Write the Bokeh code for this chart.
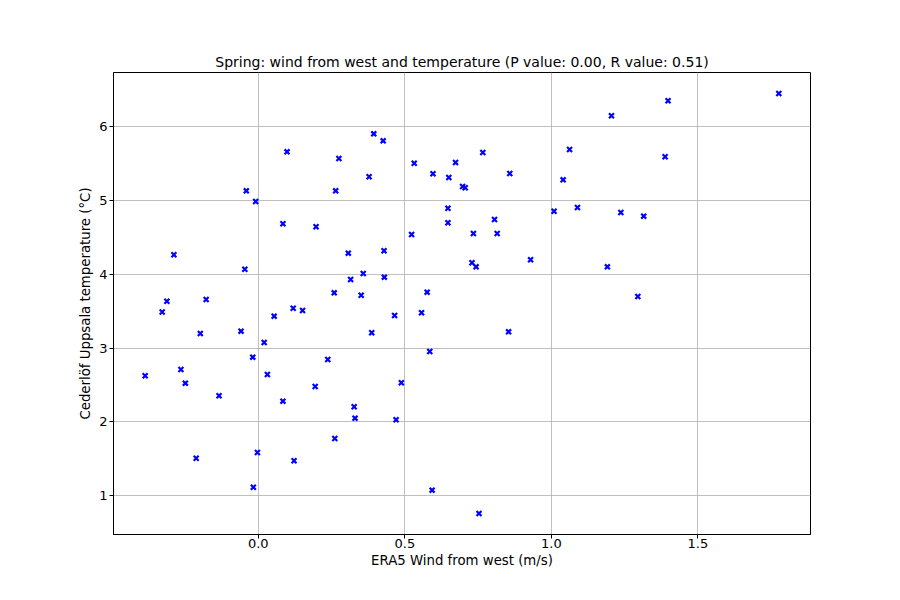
from bokeh.plotting import figure
from bokeh.models import FixedTicker, Range1d, CustomJSTickFormatter
from bokeh.embed import file_html
from bokeh.resources import INLINE

wind_west = [-0.386, -0.328, -0.312, -0.288, -0.264, -0.249, -0.198, -0.178, -0.212, -0.134,
             -0.059, -0.046, -0.041, -0.019, -0.009, -0.003, -0.017, 0.020, 0.031, 0.054,
             0.084, 0.084, 0.098, 0.119, 0.122, 0.151, 0.197, 0.194, 0.237, 0.264,
             0.259, 0.261, 0.275, 0.307, 0.315, 0.327, 0.330, 0.351, 0.358, 0.378,
             0.387, 0.394, 0.426, 0.429, 0.430, 0.465, 0.470, 0.488, 0.523, 0.532,
             0.557, 0.576, 0.596, 0.585, 0.593, 0.647, 0.647, 0.650, 0.673, 0.697,
             0.706, 0.734, 0.729, 0.743, 0.753, 0.766, 0.806, 0.815, 0.858, 0.854,
             0.929, 1.009, 1.040, 1.062, 1.089, 1.191, 1.205, 1.237, 1.295, 1.315,
             1.388, 1.398, 1.776]
temperature = [2.625, 3.488, 3.633, 4.263, 2.710, 2.525, 3.197, 3.658, 1.509, 2.354,
               3.229, 4.068, 5.129, 2.877, 4.985, 1.586, 1.116, 3.076, 2.642, 3.432,
               4.683, 2.281, 5.657, 3.540, 1.474, 3.509, 4.642, 2.480, 2.845, 5.129,
               3.748, 1.776, 5.567, 4.285, 3.929, 2.205, 2.051, 3.716, 4.010, 5.319,
               3.207, 5.901, 5.806, 4.317, 3.960, 3.441, 2.029, 2.530, 4.538, 5.503,
               3.478, 3.757, 5.360, 2.954, 1.076, 4.894, 4.696, 5.310, 5.513, 5.188,
               5.170, 4.551, 4.155, 4.100, 0.760, 5.648, 4.741, 4.551, 5.364, 3.220,
               4.195, 4.853, 5.278, 5.689, 4.903, 4.100, 6.145, 4.836, 3.698, 4.786,
               5.590, 6.348, 6.447]

x_ticks = [0.0, 0.5, 1.0, 1.5]
y_ticks = [1, 2, 3, 4, 5, 6]

title = "Spring: wind from west and temperature (P value: 0.00, R value: 0.51)"
x_label = "ERA5 Wind from west (m/s)"
y_label = "Cederlöf Uppsala temperature (°C)"

xmin, xmax = min(wind_west), max(wind_west)
ymin, ymax = min(temperature), max(temperature)
xm = (xmax - xmin) * 0.05
ym = (ymax - ymin) * 0.05

p = figure(width=892, height=592, output_backend="svg", toolbar_location=None,
           x_range=Range1d(xmin - xm, xmax + xm), y_range=Range1d(ymin - ym, ymax + ym),
           min_border_left=113, min_border_right=82, min_border_top=72, min_border_bottom=58,
           title=title)

p.title.align = "center"
p.title.text_font = "DejaVu Sans"
p.title.text_font_size = "14px"
p.title.text_font_style = "normal"
p.title.text_color = "black"
p.title.offset = 0
p.title.standoff = 5

p.scatter(wind_west, temperature, marker="x", size=7, line_width=2.2, color="blue")

p.outline_line_color = "black"
p.outline_line_width = 1
p.background_fill_color = "white"
p.border_fill_color = "white"

for ax in (p.xaxis[0], p.yaxis[0]):
    ax.major_label_text_font = "DejaVu Sans"
    ax.major_label_text_font_size = "13px"
    ax.major_label_text_color = "black"
    ax.axis_label_text_font = "DejaVu Sans"
    ax.axis_label_text_font_size = "13.3px"
    ax.axis_label_text_font_style = "normal"
    ax.axis_label_text_color = "black"
    ax.axis_line_color = "black"
    ax.major_tick_line_color = "black"
    ax.major_tick_out = 4
    ax.major_tick_in = 0
    ax.minor_tick_line_color = None

p.xaxis.major_label_standoff = 0
p.xaxis.axis_label_standoff = 2
p.yaxis.major_label_standoff = 2
p.yaxis.axis_label_standoff = 3

p.xaxis.ticker = FixedTicker(ticks=x_ticks)
p.yaxis.ticker = FixedTicker(ticks=y_ticks)
p.xaxis.formatter = CustomJSTickFormatter(code="return tick.toFixed(1);")
p.yaxis.formatter = CustomJSTickFormatter(code="return tick.toFixed(0);")
p.xaxis.axis_label = x_label
p.yaxis.axis_label = y_label

p.grid.grid_line_color = "#b0b0b0"
p.grid.grid_line_width = 0.8

open("out.html", "w").write(file_html(p, INLINE))
